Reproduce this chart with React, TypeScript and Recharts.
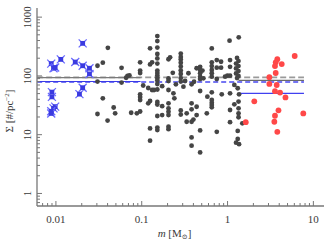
import React from 'react';
import { ScatterChart, Scatter, XAxis, YAxis, ReferenceLine, Label } from 'recharts';

// ---- data (m [Msun], Sigma [#/pc^2]) ----
const blueMass = [0.0205, 0.00882, 0.00938, 0.0098, 0.0114, 0.0168, 0.0205, 0.0246, 0.0246, 0.00898, 0.00898, 0.0205, 0.0188, 0.0098, 0.00938, 0.00882, 0.00882];
const blueSigma = [358, 162, 135, 139, 191, 172, 149, 135, 108, 53, 44, 63, 49, 30, 28, 25, 23];

const redMass = [6.06, 3.80, 3.64, 3.57, 4.28, 3.64, 3.07, 3.07, 3.74, 3.57, 4.09, 4.73, 2.05, 7.63, 3.92, 3.57, 1.63, 3.51, 3.80];
const redSigma = [218, 192, 170, 147, 159, 112, 95, 73, 70, 55, 52, 43, 37, 23, 26, 21, 16.3, 16.6, 11.2];

const blackPoints: [number, number][] = [
  [0.0305, 149], [0.0352, 168], [0.0403, 300], [0.0582, 137], [0.0305, 80], [0.0582, 77], [0.0658, 93], [0.0682, 100], [0.0719, 102],
  [0.0352, 41.6], [0.0305, 22.5], [0.0471, 29], [0.049, 23.1], [0.040, 17.4], [0.0753, 23.6], [0.0877, 23.1], [0.0958, 24.8],
  [0.0958, 170], [0.0958, 123], [0.0958, 112], [0.0958, 48.7], [0.0958, 43.8], [0.0958, 38.9], [0.104, 68.7],
  [0.125, 295], [0.125, 157], [0.132, 170], [0.119, 62.3], [0.132, 57.6], [0.139, 57.6], [0.119, 34.2], [0.125, 37.4],
  [0.152, 477], [0.152, 392], [0.152, 304], [0.152, 236], [0.152, 198], [0.152, 162], [0.152, 123], [0.152, 112], [0.152, 102],
  [0.152, 92], [0.152, 83.5], [0.152, 72.8], [0.152, 58.7], [0.152, 36], [0.152, 32.6], [0.152, 20.8], [0.152, 13.2], [0.152, 12],
  [0.173, 67], [0.173, 30.5], [0.173, 21.6], [0.205, 192], [0.214, 207],
  [0.205, 90.3], [0.205, 81.9], [0.205, 57.6], [0.205, 34.2], [0.205, 28.1], [0.205, 24.6], [0.205, 21.6], [0.205, 13.7], [0.205, 12.4],
  [0.230, 113], [0.234, 50.6], [0.240, 41.6], [0.250, 72], [0.125, 12.8], [0.125, 7.9],
  [0.285, 240], [0.285, 210], [0.285, 190], [0.285, 168], [0.285, 145], [0.285, 124], [0.285, 108], [0.285, 92], [0.285, 80], [0.285, 25.8], [0.285, 22],
  [0.306, 65.5], [0.320, 81.9], [0.334, 23.1], [0.334, 16.6],
  [0.350, 111], [0.381, 34.2], [0.381, 72], [0.407, 79.6], [0.381, 27], [0.436, 29.9], [0.436, 21.6], [0.381, 16.6], [0.40, 18.1], [0.381, 9.0], [0.381, 6.5], [0.436, 135],
  [0.479, 143], [0.479, 126], [0.479, 111], [0.479, 97], [0.479, 88.6], [0.479, 55.4], [0.479, 11.8], [0.479, 5.0],
  [0.523, 91], [0.573, 23.1], [0.582, 44.3], [0.51, 123],
  [0.655, 293], [0.655, 170], [0.655, 147], [0.655, 126], [0.655, 111], [0.655, 97], [0.655, 52.6], [0.655, 38.9], [0.655, 35], [0.655, 32], [0.655, 29.2],
  [0.749, 186], [0.749, 138], [0.749, 88.6], [0.749, 11.2], [0.840, 174], [0.840, 138], [0.856, 48.7], [0.935, 97], [0.995, 101],
  [1.055, 397], [1.069, 186], [1.069, 143], [1.069, 101], [1.069, 50.6], [1.069, 26.3], [1.069, 16.3], [1.2, 32.8], [1.35, 453],
  [1.29, 202], [1.34, 179], [1.256, 162], [1.34, 147], [1.256, 134], [1.34, 121], [1.256, 110], [1.34, 99.6], [1.29, 92], [1.2, 70.3],
  [1.314, 61.7], [1.361, 48.7], [1.343, 36.6], [1.343, 28.1], [1.343, 23.1], [1.343, 19.8], [1.487, 15.6], [1.314, 11.6], [1.314, 8.45],
  [1.256, 7.3], [1.361, 6.9],
];

// horizontal median segments: [xStart, xEnd, y]
const grayDashed = [0.00605, 7.77, 94.7];
const blueDashed = [0.00605, 7.77, 78.7];
const graySolidLow = [0.00605, 0.097, 93.2];
const blueSolidLow = [0.00605, 0.097, 80.3];
const graySolidHigh = [1.34, 7.77, 84.2];
const blueSolidHigh = [1.34, 7.77, 50.6];

const xDomain = [0.00602, 13.3];
const yDomain = [0.612, 1430];
const xTicks = [0.007, 0.008, 0.009, 0.01, 0.02, 0.03, 0.04, 0.05, 0.06, 0.07, 0.08, 0.09, 0.1, 0.2, 0.3, 0.4, 0.5, 0.6, 0.7, 0.8, 0.9, 1, 2, 3, 4, 5, 6, 7, 8, 9, 10];
const yTicks = [0.7, 0.8, 0.9, 1, 2, 3, 4, 5, 6, 7, 8, 9, 10, 20, 30, 40, 50, 60, 70, 80, 90, 100, 200, 300, 400, 500, 600, 700, 800, 900, 1000];

const blueData = blueMass.map((m, i) => ({ m, s: blueSigma[i] }));
const redData = redMass.map((m, i) => ({ m, s: redSigma[i] }));
const blackData = blackPoints.map(([m, s]) => ({ m, s }));

const AX = '#777';
const TXT = '#3a3a3a';
const FONT = '"Liberation Serif", "DejaVu Serif", serif';

const isMajor = (v: number) => Math.abs(Math.log10(v) - Math.round(Math.log10(v))) < 1e-6;

const BottomTick = (p: any) => {
  const { x, y, payload } = p;
  const v = payload.value;
  const maj = isMajor(v);
  return (
    <g>
      <line x1={x} x2={x} y1={y} y2={y - (maj ? 5 : 3)} stroke={AX} strokeWidth={1} />
      {maj && (
        <text x={x} y={y + 17} textAnchor="middle" fontSize={11} fill={TXT} fontFamily={FONT}>{String(v)}</text>
      )}
    </g>
  );
};
const TopTick = (p: any) => {
  const { x, y, payload } = p;
  const maj = isMajor(payload.value);
  return <line x1={x} x2={x} y1={y} y2={y + (maj ? 5 : 3)} stroke={AX} strokeWidth={1} />;
};
const LeftTick = (p: any) => {
  const { x, y, payload } = p;
  const v = payload.value;
  const maj = isMajor(v);
  return (
    <g>
      <line x1={x} x2={x + (maj ? 5 : 3)} y1={y} y2={y} stroke={AX} strokeWidth={1} />
      {maj && (
        <text x={x - 6} y={y} transform={`rotate(-90, ${x - 6}, ${y})`} textAnchor="middle" fontSize={11} fill={TXT} fontFamily={FONT}>{String(v)}</text>
      )}
    </g>
  );
};
const RightTick = (p: any) => {
  const { x, y, payload } = p;
  const maj = isMajor(payload.value);
  return <line x1={x} x2={x - (maj ? 5 : 3)} y1={y} y2={y} stroke={AX} strokeWidth={1} />;
};

const BlackDot = (p: any) => <circle cx={p.cx} cy={p.cy} r={2.4} fill="#454545" />;
const RedDot = (p: any) => <circle cx={p.cx} cy={p.cy} r={2.9} fill="#ff4848" />;
const BlueMark = (p: any) => {
  const { cx, cy } = p;
  return (
    <g>
      <path d={`M${cx - 4},${cy - 4}L${cx + 4},${cy + 4}M${cx - 4},${cy + 4}L${cx + 4},${cy - 4}`} stroke="#6a6aff" strokeWidth={1.3} />
      <rect x={cx - 2.4} y={cy - 2.4} width={4.8} height={4.8} fill="#3a3ae0" />
    </g>
  );
};

const seg = (a: number[]) => [{ x: a[0], y: a[2] }, { x: a[1], y: a[2] }];

export default function App() {
  return (
    <div style={{ position: 'absolute', left: 0, top: 0, width: 333, height: 243, background: '#fff' }}>
      <ScatterChart width={333} height={243} margin={{ top: 8, right: 9, bottom: 0, left: 0 }}>
        <XAxis xAxisId="b" dataKey="m" type="number" scale="log" domain={xDomain} allowDataOverflow ticks={xTicks} interval={0}
          orientation="bottom" height={37} tickLine={false} tickSize={0} tickMargin={0} tick={<BottomTick />}
          axisLine={{ stroke: AX, strokeWidth: 1.3 }}>
          <Label content={(lp: any) => {
            const vb = lp.viewBox;
            const cx = vb.x + vb.width / 2 - 6;
            return (
              <text x={cx} y={vb.y + 31} textAnchor="middle" fontSize={11} fill={TXT} fontFamily={FONT}>
                <tspan fontStyle="italic">m</tspan>
                <tspan> [M</tspan>
                <tspan fontSize={7} dy={2}>⊙</tspan>
                <tspan dy={-2}>]</tspan>
              </text>
            );
          }} />
        </XAxis>
        <XAxis xAxisId="t" dataKey="m" type="number" scale="log" domain={xDomain} allowDataOverflow ticks={xTicks} interval={0}
          orientation="top" height={0} tickLine={false} tickSize={0} tickMargin={0} tick={<TopTick />}
          axisLine={{ stroke: AX, strokeWidth: 1.3 }} />
        <YAxis yAxisId="l" dataKey="s" type="number" scale="log" domain={yDomain} allowDataOverflow ticks={yTicks} interval={0}
          orientation="left" width={37} tickLine={false} tickSize={0} tickMargin={0} tick={<LeftTick />}
          axisLine={{ stroke: AX, strokeWidth: 1.3 }}>
          <Label content={(lp: any) => {
            const vb = lp.viewBox;
            const cx = 13;
            const cy = vb.y + vb.height / 2 + 4;
            return (
              <text x={cx} y={cy} transform={`rotate(-90, ${cx}, ${cy})`} textAnchor="middle" fontSize={11} fill={TXT} fontFamily={FONT}>
                <tspan>Σ [#/pc</tspan>
                <tspan fontSize={7} dy={-4}>−2</tspan>
                <tspan dy={4}>]</tspan>
              </text>
            );
          }} />
        </YAxis>
        <YAxis yAxisId="r" dataKey="s" type="number" scale="log" domain={yDomain} allowDataOverflow ticks={yTicks} interval={0}
          orientation="right" width={0} tickLine={false} tickSize={0} tickMargin={0} tick={<RightTick />}
          axisLine={{ stroke: AX, strokeWidth: 1.3 }} />

        <ReferenceLine xAxisId="b" yAxisId="l" ifOverflow="visible" segment={seg(grayDashed)} stroke="#9a9a9a" strokeWidth={1.8} strokeDasharray="6 3" />
        <ReferenceLine xAxisId="b" yAxisId="l" ifOverflow="visible" segment={seg(blueDashed)} stroke="#4848f0" strokeWidth={1.4} strokeDasharray="5 3" />
        <ReferenceLine xAxisId="b" yAxisId="l" ifOverflow="visible" segment={seg(graySolidLow)} stroke="#7a7a7a" strokeWidth={1.2} />
        <ReferenceLine xAxisId="b" yAxisId="l" ifOverflow="visible" segment={seg(blueSolidLow)} stroke="#3a3ae8" strokeWidth={1.2} />
        <ReferenceLine xAxisId="b" yAxisId="l" ifOverflow="visible" segment={seg(graySolidHigh)} stroke="#6a6a6a" strokeWidth={1.2} />
        <ReferenceLine xAxisId="b" yAxisId="l" ifOverflow="visible" segment={seg(blueSolidHigh)} stroke="#4040f0" strokeWidth={1.2} />

        <Scatter xAxisId="b" yAxisId="l" data={blackData} shape={<BlackDot />} isAnimationActive={false} />
        <Scatter xAxisId="b" yAxisId="l" data={redData} shape={<RedDot />} isAnimationActive={false} />
        <Scatter xAxisId="b" yAxisId="l" data={blueData} shape={<BlueMark />} isAnimationActive={false} />
      </ScatterChart>
    </div>
  );
}
